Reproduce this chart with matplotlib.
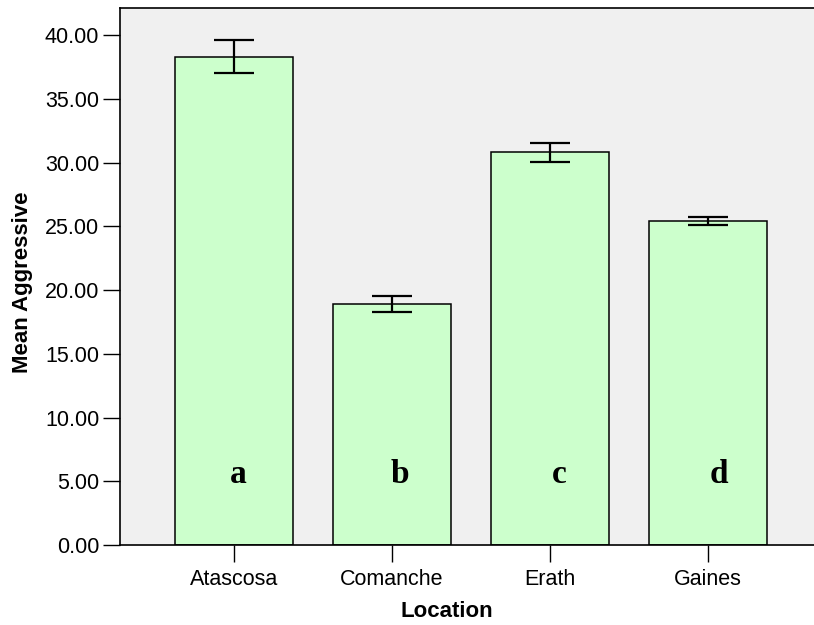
import numpy as np
import matplotlib.pyplot as plt

locations = ['Atascosa', 'Comanche', 'Erath', 'Gaines']
means = [38.3, 18.9, 30.8, 25.45]
err_lo = [1.3, 0.62, 0.75, 0.33]
err_hi = [1.3, 0.62, 0.75, 0.30]
letters = ['a', 'b', 'c', 'd']
letter_shift = [0.03, 0.05, 0.06, 0.07]   # letters sit a bit right of bar centre
yticks = [0, 5, 10, 15, 20, 25, 30, 35, 40]

plt.rcParams['font.family'] = ['Liberation Sans', 'DejaVu Sans']

fig = plt.figure(figsize=(8.14, 6.25), dpi=100)
ax = fig.add_axes([120/814, 80/625, 694/814, 537/625])
ax.set_facecolor('#f0f0f0')

x = np.arange(len(locations))
ax.bar(x, means, width=0.747, color='#ccffcc', edgecolor='black', linewidth=1.1, zorder=2)
ax.errorbar(x, means, yerr=[err_lo, err_hi], fmt='none', ecolor='black',
            elinewidth=1.6, capsize=14.5, capthick=1.6, zorder=3)

for i, l in enumerate(letters):
    ax.text(x[i] + letter_shift[i], 4.85, l, ha='center', va='baseline',
            fontsize=24, fontweight='bold', family='Liberation Serif', zorder=4)

ax.set_xlim(-0.7215, 3.671)
ax.set_ylim(0, 42.12)
ax.set_yticks(yticks)
ax.set_yticklabels([f'{v:.2f}' for v in yticks])
ax.set_xticks(x)
ax.set_xticklabels(locations)
ax.tick_params(axis='both', direction='out', length=12, width=1.0, labelsize=15.5)
ax.tick_params(axis='y', pad=3)
ax.tick_params(axis='x', pad=5)

for s in ['left', 'top', 'bottom']:
    ax.spines[s].set_linewidth(1.2)
ax.spines['right'].set_visible(False)

ax.set_xlabel('Location', fontsize=16, fontweight='bold')
ax.set_ylabel('Mean Aggressive', fontsize=16, fontweight='bold')
ax.xaxis.set_label_coords(0.471, -0.104)
ax.yaxis.set_label_coords(-0.126, 0.49)

plt.savefig('out.png', dpi=100)
